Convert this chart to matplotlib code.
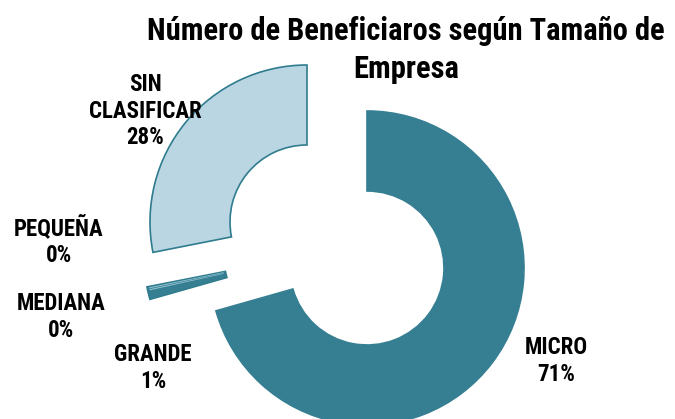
import numpy as np
import matplotlib
matplotlib.use("Agg")
import matplotlib.pyplot as plt
from matplotlib.patches import Wedge

# Data (percent of beneficiaries), in the order drawn counter-clockwise from 12 o'clock
categories = ["SIN\nCLASIFICAR", "PEQUEÑA", "MEDIANA", "GRANDE", "MICRO"]
values = [28.1, 0.2, 0.2, 0.9, 70.6]
colors = ["#B9D6E2", "#8FC0CF", "#8FC0CF", "#367F93", "#367F93"]
edges = ["#2F7C8E", "#8FC0CF", "#8FC0CF", "#2F7C8E", "#367F93"]

# explode offsets in pixels (x right, y up)
offsets = [(-60, 46), (-66, 11.5), (-66, 11.5), (-66, 11.5), (0, 0)]
label_pos = [(145, 111), (59, 241), (61, 317), (153, 368), (556, 361)]

W, H = 675, 419
CX, CY = 367, H - 268
R_OUT, RING = 157, 80

plt.rcParams['font.family'] = ['Roboto Condensed', 'Roboto', 'DejaVu Sans']

fig = plt.figure(figsize=(W / 100, H / 100), dpi=100)
ax = fig.add_axes([0, 0, 1, 1])
ax.set_xlim(0, W)
ax.set_ylim(0, H)
ax.axis('off')

total = sum(values)

# dark outline for the small exploded sliver (pequeña + mediana + grande)
dx, dy = offsets[3]
s0 = 90.0 + values[0] / total * 360.0
s1 = s0 + sum(values[1:4]) / total * 360.0
ax.add_patch(Wedge((CX + dx, CY + dy), R_OUT, s0, s1, width=RING,
                   facecolor="#367F93", edgecolor="#2F7C8E", linewidth=1.2))

start = 90.0
for i, (val, col, ec, (dx, dy)) in enumerate(zip(values, colors, edges, offsets)):
    sweep = val / total * 360.0
    if i in (1, 2):
        # thin highlight strip inside the sliver
        w = Wedge((CX + dx, CY + dy), R_OUT - 2, start + 0.3, start + sweep,
                  width=RING - 4, facecolor=col, edgecolor='none')
    elif i == 3:
        start += sweep
        continue
    else:
        w = Wedge((CX + dx, CY + dy), R_OUT, start, start + sweep, width=RING,
                  facecolor=col, edgecolor=ec, linewidth=1.2)
    ax.add_patch(w)
    start += sweep

for name, val, (lx, ly) in zip(categories, values, label_pos):
    ax.text(lx, H - ly, f"{name}\n{val:.0f}%", ha='center', va='center',
            fontsize=16.5, fontweight='bold', color='#000000', linespacing=1.2)

ax.text(406, H - 50, "Número de Beneficiaros según Tamaño de\nEmpresa",
        ha='center', va='center', fontsize=22, fontweight='bold',
        color='#000000', linespacing=1.3)

fig.savefig("out.png", dpi=100)
